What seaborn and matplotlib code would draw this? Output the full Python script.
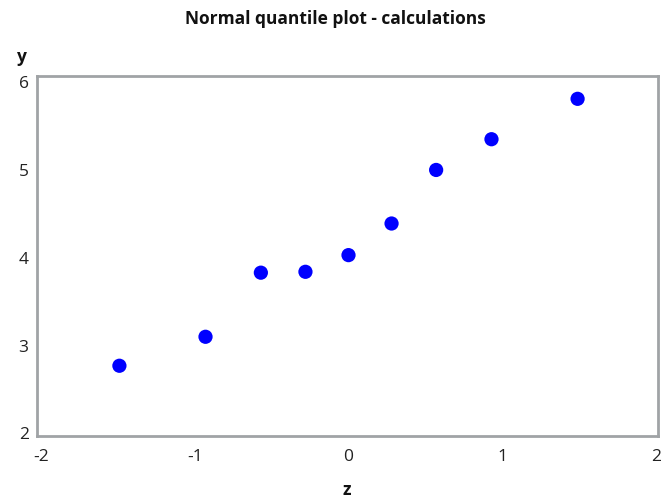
import matplotlib
matplotlib.use("Agg")
import matplotlib.pyplot as plt
import seaborn as sns
import pandas as pd

z = [-1.49, -0.93, -0.57, -0.28, 0.0, 0.28, 0.57, 0.93, 1.49]
y = [2.76, 3.09, 3.82, 3.83, 4.02, 4.38, 4.99, 5.34, 5.80]
xticks = [-2, -1, 0, 1, 2]
yticks = [2, 3, 4, 5, 6]
title = "Normal quantile plot - calculations"

sns.set_style("white")
plt.rcParams['font.family'] = ['Open Sans', 'DejaVu Sans']

df = pd.DataFrame({"z": z, "y": y})
fig = plt.figure(figsize=(6.7, 5.02), dpi=100)
ax = fig.add_axes([37/670, 1-437/502, (658-37)/670, (437-77)/502])
sns.scatterplot(data=df, x="z", y="y", ax=ax, color="#0000ff", s=105,
                edgecolor="none", linewidth=0)
ax.set_xlim(-2.026, 2.013)
ax.set_ylim(1.96, 6.06)
ax.set_xticks(xticks)
ax.set_yticks(yticks)
ax.set_xticklabels([str(t) for t in xticks])
ax.set_yticklabels([str(t) for t in yticks])
for s in ax.spines.values():
    s.set_color("#a0a3a6")
    s.set_linewidth(2)
ax.tick_params(axis="both", direction="out", length=3, width=1, color="#a0a3a6",
               labelsize=12.5, labelcolor="#222222")
ax.tick_params(axis="x", pad=6)
ax.tick_params(axis="y", pad=3)
ax.set_xlabel("")
ax.set_ylabel("")
fig.text(22/670, 1-57/502, "y", ha="center", va="center", fontsize=12.5,
         fontweight="bold", color="#111111")
fig.text(347/670, 1-490/502, "z", ha="center", va="center", fontsize=12.5,
         fontweight="bold", color="#111111")
fig.text(0.5, 1-19/502, title, ha="center", va="center", fontsize=12.5,
         fontweight="bold", color="#111111")
fig.savefig("out.png", dpi=100)
